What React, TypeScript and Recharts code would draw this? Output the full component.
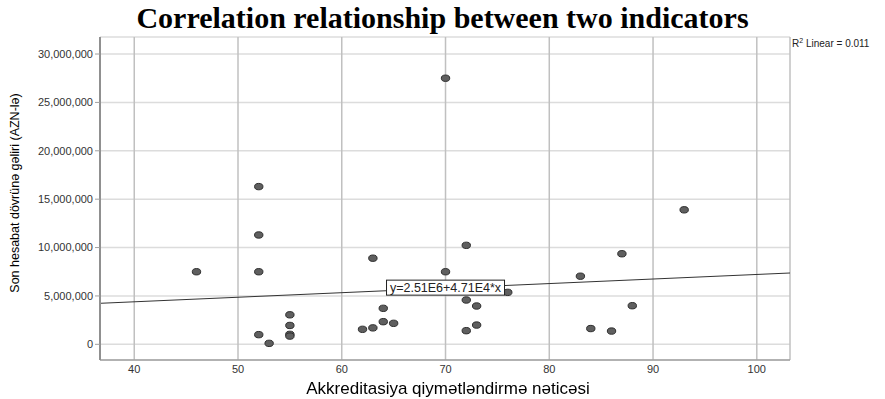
import React from 'react'
import {
  ScatterChart,
  Scatter,
  XAxis,
  YAxis,
  CartesianGrid,
  ReferenceLine,
  ReferenceDot,
} from 'recharts'

// Accreditation score vs. last reporting period income (AZN)
const scores = [46, 52, 52, 52, 52, 53, 55, 55, 55, 55, 62, 63, 63, 64, 64, 65, 70, 70, 72, 72, 72, 73, 73, 76, 83, 84, 86, 87, 88, 93]
const incomes = [
  7500000, 16300000, 11300000, 7500000, 1000000, 100000, 3050000, 1950000, 1030000, 850000,
  1550000, 8900000, 1700000, 3720000, 2340000, 2170000, 27500000, 7500000, 10230000, 4580000,
  1410000, 3960000, 1990000, 5370000, 7040000, 1630000, 1370000, 9360000, 3990000, 13900000,
]
const xTicks = [40, 50, 60, 70, 80, 90, 100]
const yTicks = [0, 5000000, 10000000, 15000000, 20000000, 25000000, 30000000]

// fit reported by the source: y = 2.51E6 + 4.71E4 * x, R² = 0.011
const intercept = 2.51e6
const slope = 4.71e4
const fitLabel = 'y=2.51E6+4.71E4*x'
const r2Text = '0.011'

const xDomain: [number, number] = [36.7, 103.2]
const yDomain: [number, number] = [-1620000, 31760000]

const points = scores.map((s, i) => ({ x: s, y: incomes[i] }))
const fit = (x: number) => intercept + slope * x

const font = 'Arial, "Liberation Sans", sans-serif'

const Dot = (props: any) => (
  <ellipse cx={props.cx} cy={props.cy} rx={4.2} ry={3.2} fill="#5f5f5f" stroke="#2e2e2e" strokeWidth={1} />
)

const FitLabel = (props: any) => (
  <g>
    <rect x={props.cx - 59} y={props.cy - 8} width={118} height={15} fill="#fff" stroke="#222" strokeWidth={1} />
    <text x={props.cx} y={props.cy + 4} textAnchor="middle" fontSize={12.5} fontFamily={font} fill="#222">
      {fitLabel}
    </text>
  </g>
)

export default function App() {
  return (
    <div style={{ position: 'fixed', left: 0, top: 0, width: 885, height: 399, background: '#fff' }}>
      <ScatterChart width={885} height={399} margin={{ top: 37, right: 95, bottom: 0, left: 0 }}>
        <CartesianGrid horizontal={true} vertical={false} stroke="#dcdcdc" strokeWidth={1.5} />
        <CartesianGrid horizontal={false} vertical={true} stroke="#c0c0c0" strokeWidth={1.5} />
        <XAxis
          type="number"
          dataKey="x"
          domain={xDomain}
          ticks={xTicks}
          allowDataOverflow
          axisLine={{ stroke: '#a0a0a0', strokeWidth: 1.5 }}
          tickLine={false}
          tickSize={3}
          tickMargin={2}
          height={39}
          tick={{ fontSize: 11, fill: '#333', fontFamily: font }}
        />
        <YAxis
          type="number"
          dataKey="y"
          domain={yDomain}
          ticks={yTicks}
          allowDataOverflow
          width={100}
          axisLine={{ stroke: '#909090', strokeWidth: 2 }}
          tickLine={{ stroke: '#a0a0a0' }}
          tickSize={5}
          tickMargin={2}
          tickFormatter={(v: number) => v.toLocaleString('en-US')}
          tick={{ fontSize: 11, fill: '#333', fontFamily: font }}
        />
        <Scatter data={points} shape={Dot} isAnimationActive={false} />
        <ReferenceLine
          segment={[
            { x: xDomain[0], y: fit(xDomain[0]) },
            { x: xDomain[1], y: fit(xDomain[1]) },
          ]}
          stroke="#333"
          strokeWidth={1}
        />
        <ReferenceDot x={70} y={fit(70)} shape={FitLabel} />
      </ScatterChart>
      <div
        style={{
          position: 'absolute', left: 0, width: 885, top: 3, textAlign: 'center',
          fontFamily: '"Liberation Serif", "Times New Roman", serif', fontWeight: 'bold', fontSize: 30,
          color: '#000', lineHeight: '30px', whiteSpace: 'nowrap',
        }}
      >
        Correlation relationship between two indicators
      </div>
      <div style={{ position: 'absolute', left: 792, top: 37, fontFamily: font, fontSize: 10, lineHeight: '14px', color: '#222', whiteSpace: 'nowrap' }}>
        R<sup style={{ fontSize: 7, lineHeight: 0 }}>2</sup> Linear = {r2Text}
      </div>
      <div
        style={{
          position: 'absolute', left: 0, width: 896, top: 379, textAlign: 'center',
          fontFamily: font, fontSize: 17, lineHeight: '20px', color: '#000', whiteSpace: 'nowrap',
        }}
      >
        Akkreditasiya qiymətləndirmə nəticəsi
      </div>
      <div style={{ position: 'absolute', left: 15, top: 193, width: 0, height: 0 }}>
        <div
          style={{
            position: 'absolute', left: 0, top: 0, transform: 'translate(-50%, -50%) rotate(-90deg)',
            fontFamily: font, fontSize: 12.5, color: '#000', whiteSpace: 'nowrap',
          }}
        >
          Son hesabat dövrünə gəliri (AZN-lə)
        </div>
      </div>
    </div>
  )
}
